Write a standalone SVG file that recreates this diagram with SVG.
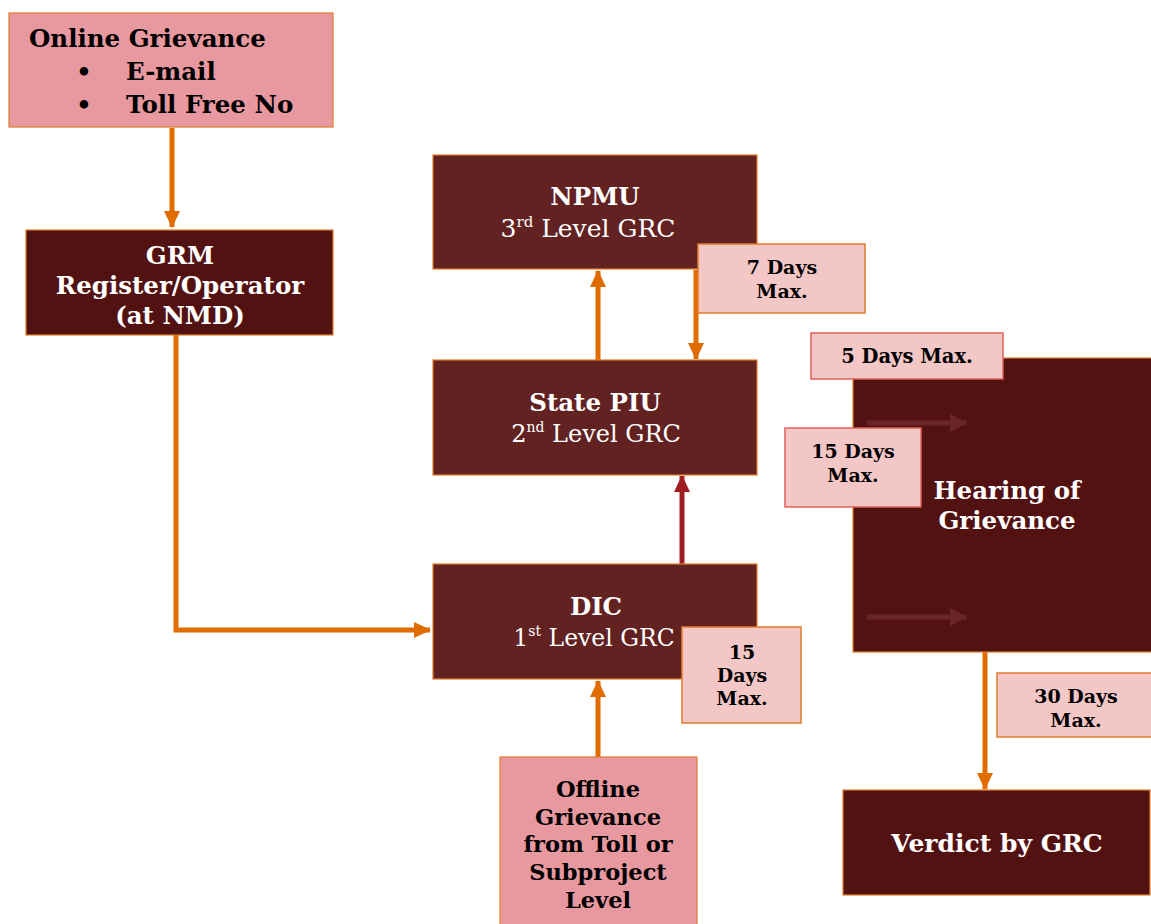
<svg xmlns="http://www.w3.org/2000/svg" width="1151" height="924" viewBox="0 0 1151 924">
<style>
.pink{fill:#E8989F;stroke:#E07B2A;stroke-width:1.2}
.dark{fill:#531212;stroke:#E07B2A;stroke-width:1.2}
.mid{fill:#622222;stroke:#E07B2A;stroke-width:1.2}
.lab{fill:#F4C7C7;stroke:#E07B2A;stroke-width:1.5}
.labr{fill:#F4C7C7;stroke:#E0605A;stroke-width:1.5}
text{font-family:"DejaVu Serif","Liberation Serif",serif;text-anchor:middle}
.b{font-weight:bold}
.s{text-anchor:start}
.w{fill:#FFFFFF}
.k{fill:#000000}
.conn{fill:none;stroke:#E06C00;stroke-width:5}
.red{fill:none;stroke:#A01E22;stroke-width:5}
.faint{fill:none;stroke:#6A2626;stroke-width:5}
</style>
<defs>
<marker id="ah" markerUnits="userSpaceOnUse" markerWidth="18" markerHeight="16" refX="16" refY="8" orient="auto"><path d="M0,0 L17,8 L0,16 Z" fill="#E06C00"/></marker>
<marker id="ahr" markerUnits="userSpaceOnUse" markerWidth="18" markerHeight="16" refX="16" refY="8" orient="auto"><path d="M0,0 L17,8 L0,16 Z" fill="#A01E22"/></marker>
<marker id="ahf" markerUnits="userSpaceOnUse" markerWidth="18" markerHeight="18" refX="16" refY="9" orient="auto"><path d="M0,0 L17,9 L0,18 Z" fill="#6A2626"/></marker>
</defs>

<g id="connectors">
<path class="conn" d="M172,128 V227" marker-end="url(#ah)"/>
<path class="conn" d="M176,335 V630 H430" marker-end="url(#ah)"/>
<path class="conn" d="M598,360 V271" marker-end="url(#ah)"/>
<path class="conn" d="M696,270 V359" marker-end="url(#ah)"/>
<path class="red" d="M682,565 V476" marker-end="url(#ahr)"/>
<path class="conn" d="M598,757 V681" marker-end="url(#ah)"/>
<path class="conn" d="M985,652 V789" marker-end="url(#ah)"/>
</g>

<g id="online">
<rect class="pink" x="9" y="13" width="324" height="114"/>
<text class="b k s" x="29" y="47" font-size="24.5">Online Grievance</text>
<text class="b k" x="84" y="80" font-size="24">•</text>
<text class="b k s" x="126" y="80" font-size="24.5">E-mail</text>
<text class="b k" x="84" y="113" font-size="24">•</text>
<text class="b k s" x="126" y="113" font-size="24.5">Toll Free No</text>
</g>

<g id="grm">
<rect class="dark" x="26" y="230" width="307" height="105"/>
<text class="b w" x="180" y="264" font-size="24.5">GRM</text>
<text class="b w" x="180" y="294" font-size="24.5">Register/Operator</text>
<text class="b w" x="180" y="324" font-size="24.5">(at NMD)</text>
</g>

<g id="npmu">
<rect class="mid" x="433" y="155" width="324" height="114"/>
<text class="b w" x="595" y="205" font-size="24.5">NPMU</text>
<text class="w" x="588" y="237" font-size="25">3<tspan font-size="15" dy="-10">rd</tspan><tspan dy="10"> Level GRC</tspan></text>
</g>

<g id="label7">
<rect class="lab" x="698" y="244" width="167" height="69"/>
<text class="b k" x="782" y="274" font-size="19">7 Days</text>
<text class="b k" x="782" y="298" font-size="19">Max.</text>
</g>

<g id="statepiu">
<rect class="mid" x="433" y="360" width="324" height="115"/>
<text class="b w" x="595" y="411" font-size="24.5">State PIU</text>
<text class="w" x="596" y="442" font-size="24">2<tspan font-size="14" dy="-10">nd</tspan><tspan dy="10"> Level GRC</tspan></text>
</g>

<g id="dic">
<rect class="mid" x="433" y="564" width="324" height="115"/>
<text class="b w" x="596" y="615" font-size="24.5">DIC</text>
<text class="w" x="594" y="646" font-size="23.5">1<tspan font-size="14" dy="-10">st</tspan><tspan dy="10"> Level GRC</tspan></text>
</g>

<g id="label15a">
<rect class="lab" x="682" y="627" width="119" height="96"/>
<text class="b k" x="742" y="659" font-size="19">15</text>
<text class="b k" x="742" y="682" font-size="19">Days</text>
<text class="b k" x="742" y="705" font-size="19">Max.</text>
</g>

<g id="offline">
<rect class="pink" x="500" y="757" width="197" height="175"/>
<text class="b k" x="598" y="797" font-size="22.5">Offline</text>
<text class="b k" x="598" y="825" font-size="22.5">Grievance</text>
<text class="b k" x="598" y="852" font-size="22.5">from Toll or</text>
<text class="b k" x="598" y="880" font-size="22.5">Subproject</text>
<text class="b k" x="598" y="908" font-size="22.5">Level</text>
</g>

<g id="hearing">
<rect class="dark" x="853" y="358" width="310" height="294"/>
<path class="faint" d="M867,423 H966" marker-end="url(#ahf)"/>
<path class="faint" d="M867,617 H966" marker-end="url(#ahf)"/>
<text class="b w" x="1007" y="499" font-size="24.5">Hearing of</text>
<text class="b w" x="1007" y="529" font-size="24.5">Grievance</text>
</g>

<g id="label5">
<rect class="labr" x="811" y="333" width="192" height="46"/>
<text class="b k" x="907" y="363" font-size="19.5">5 Days Max.</text>
</g>

<g id="label15b">
<rect class="labr" x="785" y="428" width="136" height="79"/>
<text class="b k" x="853" y="458" font-size="19">15 Days</text>
<text class="b k" x="853" y="482" font-size="19">Max.</text>
</g>

<g id="label30">
<rect class="lab" x="997" y="673" width="160" height="64"/>
<text class="b k" x="1076" y="703" font-size="19">30 Days</text>
<text class="b k" x="1076" y="727" font-size="19">Max.</text>
</g>

<g id="verdict">
<rect class="dark" x="843" y="790" width="307" height="105"/>
<text class="b w" x="997" y="852" font-size="25">Verdict by GRC</text>
</g>
</svg>
